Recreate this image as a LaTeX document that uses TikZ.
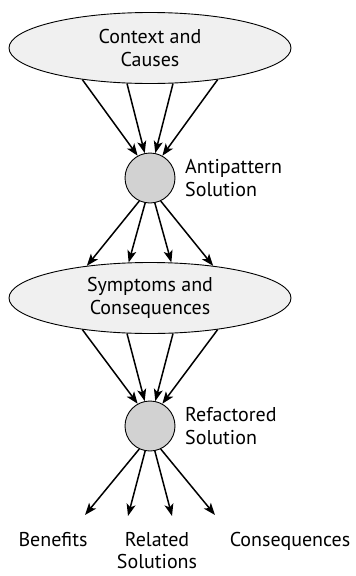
\documentclass[tikz,border=0pt]{standalone}
\usepackage{fontspec}
\setmainfont{PT Sans}
\usetikzlibrary{shapes.geometric,arrows.meta,positioning}

\tikzset{
	oval/.style={ellipse,draw,fill=gray!12,line width=0.9pt,minimum width=282pt,minimum height=71pt,inner sep=0pt,align=center},
	dot/.style={circle,draw,fill=gray!35,line width=0.9pt,minimum size=50pt,inner sep=0pt},
	lbl/.style={align=left,inner sep=0pt},
	arr/.style={line width=1.5pt,-{Stealth[length=12pt,width=9pt,inset=3pt]}}
}

\begin{document}
\begin{tikzpicture}[x=1pt,y=-1pt,font=\fontsize{20}{23.5}\selectfont]
	\useasboundingbox (0,0) rectangle (356,576);
	\node[oval] (ctx) at (150,48) {Context and\\Causes};
	\node[dot] (aps) at (150,178) {};
	\node[lbl,anchor=west] (apl) at (185,178) {Antipattern\\Solution};
	\node[oval] (sym) at (150,298) {Symptoms and\\Consequences};
	\node[dot] (rfs) at (150,426) {};
	\node[lbl,anchor=west] (rfl) at (185,426) {Refactored\\Solution};
	% outcomes
	\node[lbl,anchor=north] (ben) at (53,532) {Benefits};
	\node[align=center,inner sep=0pt,anchor=north,font=\fontsize{20}{22}\selectfont] (rel) at (157,532) {Related\\Solutions};
	\node[lbl,anchor=north] (con) at (290,532) {Consequences};
	\coordinate (e1) at (85,515);
	\coordinate (e2) at (128,516);
	\coordinate (e3) at (172,516);
	\coordinate (e4) at (215,515);
	% arrows
	\foreach \a/\b in {205/119,237/102,303/78,335/61}
		\draw[arr] (ctx.\a) -- (aps.\b);
	\foreach \a/\b in {245/153,259/121,281/59,295/27}
		\draw[arr] (aps.\a) -- (sym.\b);
	\foreach \a/\b in {205/119,237/102,303/78,335/61}
		\draw[arr] (sym.\a) -- (rfs.\b);
	\foreach \a/\e in {245/e1,259/e2,281/e3,295/e4}
		\draw[arr] (rfs.\a) -- (\e);
\end{tikzpicture}
\end{document}
